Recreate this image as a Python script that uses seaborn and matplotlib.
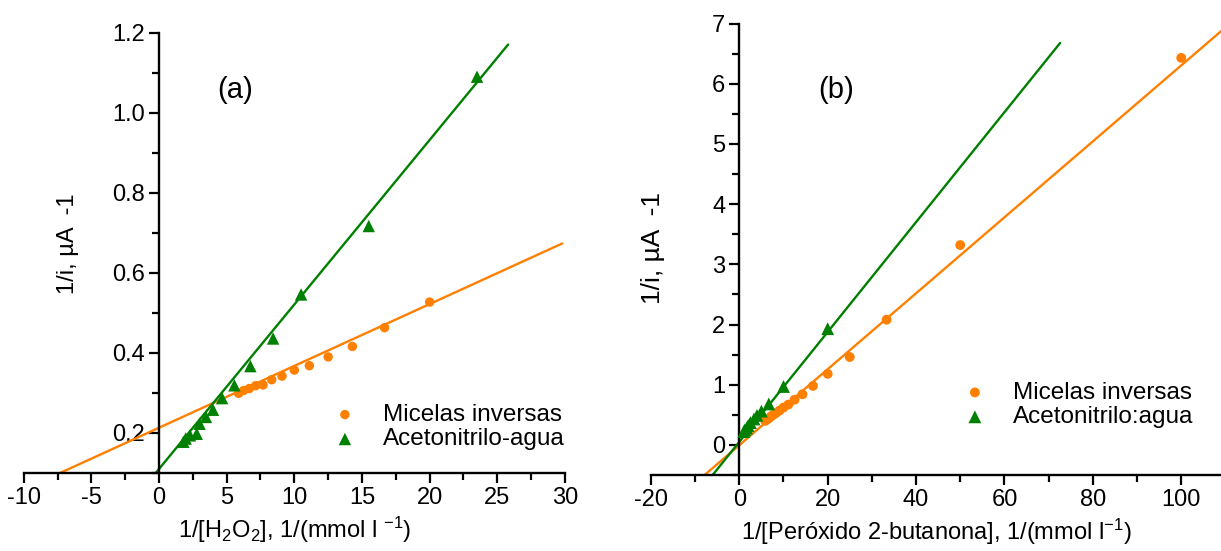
import numpy as np
import pandas as pd
import matplotlib
matplotlib.use("Agg")
import matplotlib.pyplot as plt
import seaborn as sns
from matplotlib.ticker import MultipleLocator, FormatStrFormatter

# ---------------- data ----------------
# Panel (a): 1/[H2O2]
a_mic_x = [20.0, 16.67, 14.29, 12.5, 11.11, 10.0, 9.09, 8.33, 7.69, 7.14, 6.67, 6.25, 5.88]
a_mic_y = [0.527, 0.463, 0.416, 0.390, 0.368, 0.357, 0.342, 0.333, 0.320, 0.318, 0.311, 0.306, 0.299]
a_ace_x = [23.5, 15.5, 10.5, 8.43, 6.75, 5.57, 4.66, 3.99, 3.47, 3.0, 2.79, 2.29, 1.97, 1.8]
a_ace_y = [1.09, 0.717, 0.546, 0.436, 0.367, 0.319, 0.287, 0.258, 0.240, 0.223, 0.198, 0.194, 0.186, 0.178]
# fitted lines (intercept, slope) and drawn x range
a_mic_fit = [0.213, 0.01545]
a_mic_range = [-10.0, 29.8]
a_ace_fit = [0.110, 0.0411]
a_ace_range = [-1.0, 25.8]

# Panel (b): 1/[Peróxido 2-butanona]
b_mic_x = [100, 50, 33.33, 25, 20, 16.67, 14.29, 12.5, 11.11, 10, 9.09, 8.33, 7.69, 7.14, 6.67, 6.25, 5.88]
b_mic_y = [6.43, 3.32, 2.08, 1.46, 1.18, 0.98, 0.84, 0.75, 0.67, 0.62, 0.57, 0.53, 0.50, 0.47, 0.44, 0.42, 0.40]
b_ace_x = [20.0, 10.0, 6.67, 5.0, 4.0, 3.33, 2.5, 2.0, 1.67, 1.25, 1.0]
b_ace_y = [1.93, 0.97, 0.68, 0.56, 0.49, 0.43, 0.37, 0.32, 0.28, 0.25, 0.22]
b_mic_fit = [-0.005, 0.0631]
b_mic_range = [-10.0, 112.0]
b_ace_fit = [0.05, 0.0913]
b_ace_range = [-8.0, 72.6]

labels_a = ["Micelas inversas", "Acetonitrilo-agua"]
labels_b = ["Micelas inversas", "Acetonitrilo:agua"]

ORANGE = "#FF8000"
GREEN = "#008000"

# ---------------- style ----------------
sns.set_style("white")
plt.rcParams["font.family"] = ["Liberation Sans", "DejaVu Sans"]
plt.rcParams["axes.unicode_minus"] = False
plt.rcParams["mathtext.fontset"] = "custom"
plt.rcParams["mathtext.rm"] = "Liberation Sans"
plt.rcParams["mathtext.it"] = "Liberation Sans:italic"
plt.rcParams["mathtext.default"] = "rm"
plt.rcParams["text.color"] = "black"
plt.rcParams["axes.labelcolor"] = "black"
plt.rcParams["xtick.color"] = "black"
plt.rcParams["ytick.color"] = "black"

TICK_FS = 17
LEG_FS = 17.5

fig = plt.figure(figsize=(12.21, 5.51), dpi=100)
axA = fig.add_axes([0.0194, 0.1416, 0.4433, 0.7991])
axB = fig.add_axes([0.5331, 0.138, 0.4669, 0.8192])


def fit_line(ax, fit, xr, color):
    xs = np.array(xr)
    ys = fit[0] + fit[1] * xs
    sns.lineplot(x=xs, y=ys, color=color, lw=1.7, ax=ax, legend=False, sort=False, zorder=2)


def style_axes(ax):
    for s in ["top", "right"]:
        ax.spines[s].set_visible(False)
    ax.spines["left"].set_position(("data", 0))
    for s in ["left", "bottom"]:
        ax.spines[s].set_linewidth(1.7)
        ax.spines[s].set_color("black")
    ax.tick_params(which="both", bottom=True, left=True, top=False, right=False)
    ax.tick_params(which="major", direction="out", length=7, width=1.6, labelsize=TICK_FS,
                   color="black", labelcolor="black", pad=3)
    ax.tick_params(which="minor", direction="out", length=5, width=1.6, color="black")
    ax.grid(False)


# ---------------- panel (a) ----------------
fit_line(axA, a_mic_fit, a_mic_range, ORANGE)
fit_line(axA, a_ace_fit, a_ace_range, GREEN)
sns.scatterplot(x=a_mic_x, y=a_mic_y, color=ORANGE, marker="o", s=46, edgecolor="none",
                ax=axA, label=labels_a[0], zorder=3)
sns.scatterplot(x=a_ace_x, y=a_ace_y, color=GREEN, marker="^", s=80, edgecolor="none",
                ax=axA, label=labels_a[1], zorder=3)
axA.set_xlim(-10, 30)
axA.set_ylim(0.1, 1.2)
style_axes(axA)
axA.xaxis.set_major_locator(MultipleLocator(5))
axA.xaxis.set_minor_locator(MultipleLocator(2.5))
axA.set_yticks([0.2, 0.4, 0.6, 0.8, 1.0, 1.2])
axA.yaxis.set_minor_locator(MultipleLocator(0.1))
axA.yaxis.set_major_formatter(FormatStrFormatter("%.1f"))
axA.set_xlabel(r"1/[H$_2$O$_2$], 1/(mmol l $^{-1}$)", fontsize=TICK_FS, labelpad=4)
axA.set_ylabel("1/i, µA  -1", fontsize=TICK_FS)
axA.yaxis.label.set_verticalalignment("center")
axA.yaxis.set_label_coords(0.082, 0.52)
axA.text(0.39, 0.87, "(a)", transform=axA.transAxes, fontsize=21, ha="center", va="center")
axA.legend(loc="center left", bbox_to_anchor=(0.571, 0.104), frameon=False, fontsize=LEG_FS,
           handlelength=1.0, handletextpad=1.05, borderpad=0, borderaxespad=0, labelspacing=0.1)

# ---------------- panel (b) ----------------
fit_line(axB, b_mic_fit, b_mic_range, ORANGE)
fit_line(axB, b_ace_fit, b_ace_range, GREEN)
sns.scatterplot(x=b_mic_x, y=b_mic_y, color=ORANGE, marker="o", s=50, edgecolor="none",
                ax=axB, label=labels_b[0], zorder=3)
sns.scatterplot(x=b_ace_x, y=b_ace_y, color=GREEN, marker="^", s=85, edgecolor="none",
                ax=axB, label=labels_b[1], zorder=3)
axB.set_xlim(-20, 109)
axB.set_ylim(-0.5, 7)
style_axes(axB)
axB.xaxis.set_major_locator(MultipleLocator(20))
axB.xaxis.set_minor_locator(MultipleLocator(10))
axB.set_yticks(list(range(0, 8)))
axB.yaxis.set_minor_locator(MultipleLocator(0.5))
axB.set_xlabel(r"1/[Peróxido 2-butanona], 1/(mmol l$^{-1}$)", fontsize=TICK_FS, labelpad=4)
axB.set_ylabel("1/i, µA  -1", fontsize=19)
axB.yaxis.label.set_verticalalignment("center")
axB.yaxis.set_label_coords(0.003, 0.503)
axB.text(0.325, 0.853, "(b)", transform=axB.transAxes, fontsize=21, ha="center", va="center")
axB.legend(loc="center left", bbox_to_anchor=(0.547, 0.155), frameon=False, fontsize=LEG_FS,
           handlelength=1.0, handletextpad=1.05, borderpad=0, borderaxespad=0, labelspacing=0.1)

fig.savefig("out.png", dpi=100)
